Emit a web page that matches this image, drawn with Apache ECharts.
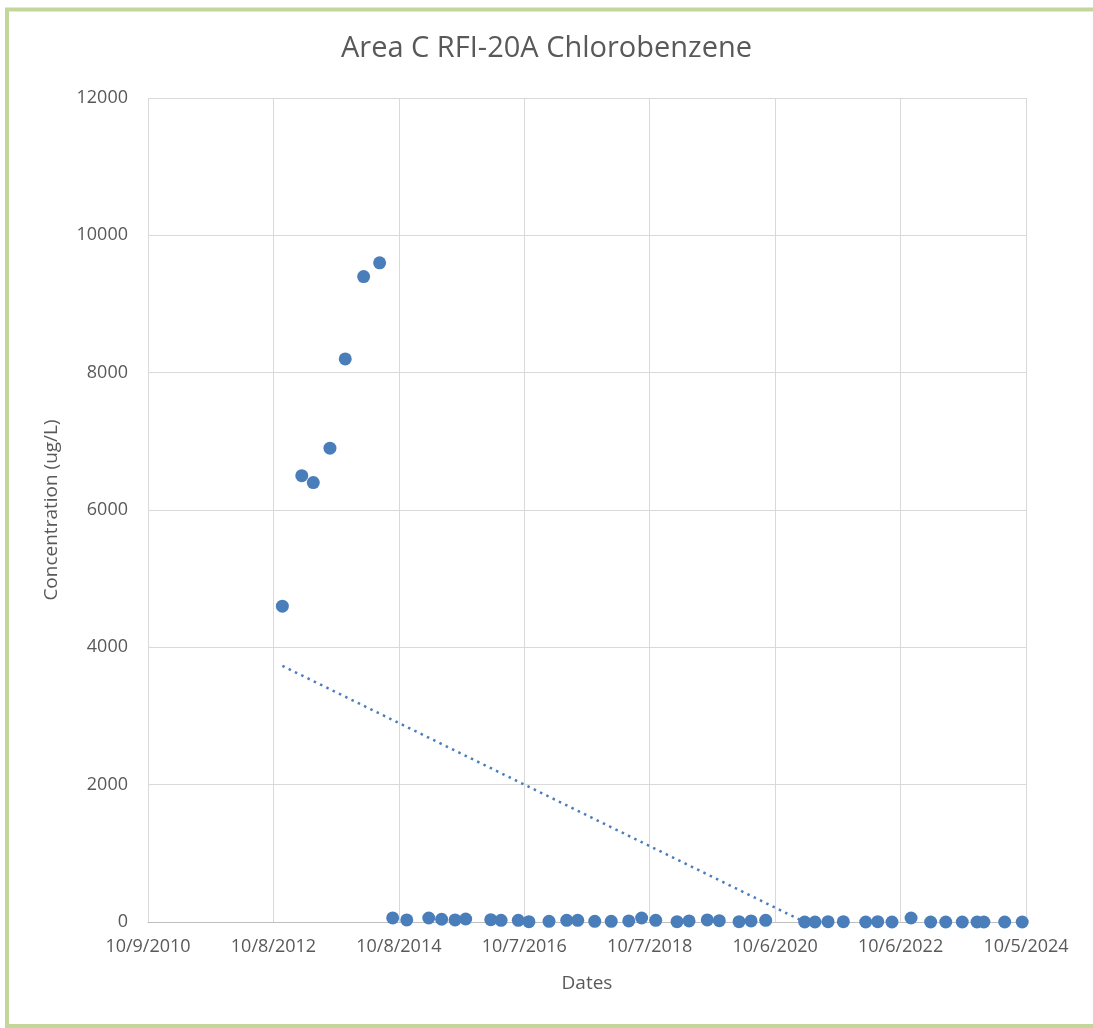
<!DOCTYPE html>
<html><head><meta charset="utf-8">
<script src="https://cdn.jsdelivr.net/npm/echarts@6/dist/echarts.min.js"></script>
<style>html,body{margin:0;padding:0;background:#fff}#c{width:1093px;height:1028px}</style>
</head><body><div id="c"></div>
<script>
const xTickLabels = ['10/9/2010','10/8/2012','10/8/2014','10/7/2016','10/7/2018','10/6/2020','10/6/2022','10/5/2024'];
const yTicks = [0,2000,4000,6000,8000,10000,12000];
const sampleDates = [
 '2012-11-29','2013-03-22','2013-05-28','2013-09-02','2013-11-30','2014-03-17','2014-06-18',
 '2014-09-02','2014-11-23','2015-03-31','2015-06-14','2015-08-31','2015-11-01',
 '2016-03-26','2016-05-25','2016-09-02','2016-11-03','2017-02-28','2017-06-11','2017-08-14','2017-11-21',
 '2018-02-25','2018-06-07','2018-08-21','2018-11-11','2019-03-15','2019-05-24','2019-09-07','2019-11-16',
 '2020-03-10','2020-05-19','2020-08-12','2021-03-27','2021-05-26','2021-08-10','2021-11-07',
 '2022-03-17','2022-05-26','2022-08-17','2022-12-06','2023-03-30','2023-06-26','2023-09-30','2023-12-25',
 '2024-02-03','2024-06-03','2024-09-13'];
const concentrations = [
 4600,6500,6400,6900,8200,9400,9600,
 60,30,58,40,30,44,
 34,25,25,5,10,25,25,10,
 10,15,58,25,5,15,30,20,
 5,15,25,0,0,5,5,
 0,5,0,58,0,0,0,0,
 0,0,0];

const dayMs = 86400000;
function dayOf(s){const p=s.split('-').map(Number);return Math.round((Date.UTC(p[0],p[1]-1,p[2])-Date.UTC(2010,9,9))/dayMs);}
const xs = sampleDates.map(dayOf);
const pts = xs.map((x,i)=>[x,concentrations[i]]);

// linear trendline (least squares)
const n = xs.length;
const mx = xs.reduce((a,b)=>a+b,0)/n, my = concentrations.reduce((a,b)=>a+b,0)/n;
let sxy=0,sxx=0;
for(let i=0;i<n;i++){sxy+=(xs[i]-mx)*(concentrations[i]-my);sxx+=(xs[i]-mx)*(xs[i]-mx);}
const slope=sxy/sxx, icpt=my-slope*mx;
const x0=xs[0], x1=Math.min(xs[n-1], -icpt/slope);
const trend=[[x0,icpt+slope*x0],[x1,Math.max(0,icpt+slope*x1)]];

const txt='#595959';
const chart = echarts.init(document.getElementById('c'));
chart.setOption({
 animation:false,
 backgroundColor:'#fff',
 graphic:[{type:'polyline',shape:{points:[[1100,9.5],[7,9.5],[7,1026],[1100,1026]]},style:{fill:'none',stroke:'#c4d79b',lineWidth:4},silent:true}],
 title:{text:'Area C RFI-20A Chlorobenzene',left:'center',top:29,textStyle:{fontFamily:'Open Sans, sans-serif',fontSize:29,fontWeight:'normal',color:txt}},
 grid:{left:148,right:67,top:98,bottom:106,containLabel:false},
 xAxis:{type:'value',min:0,max:5110,interval:730,
  name:'Dates',nameLocation:'middle',nameGap:52,nameTextStyle:{color:txt,fontSize:19,fontFamily:'Open Sans, sans-serif'},
  axisLine:{show:true,lineStyle:{color:'#bfbfbf',width:1}},axisTick:{show:false},
  axisLabel:{color:txt,fontSize:18,fontFamily:'Open Sans, sans-serif',margin:16,formatter:v=>xTickLabels[Math.round(v/730)]||''},
  splitLine:{show:true,lineStyle:{color:'#d9d9d9',width:1}}},
 yAxis:{type:'value',min:yTicks[0],max:yTicks[yTicks.length-1],interval:2000,
  name:'Concentration (ug/L)',nameLocation:'middle',nameGap:87,nameTextStyle:{color:txt,fontSize:19,fontFamily:'Open Sans, sans-serif'},
  axisLine:{show:false},axisTick:{show:false},
  axisLabel:{color:txt,fontSize:18,fontFamily:'Open Sans, sans-serif',margin:20,formatter:v=>String(v)},
  splitLine:{show:true,lineStyle:{color:'#d9d9d9',width:1}}},
 series:[
  {type:'line',data:trend,symbol:'none',lineStyle:{color:'#4a7ebb',width:2.5,type:[2.5,4.5]},z:1},
  {type:'scatter',data:pts,symbolSize:13,itemStyle:{color:'#4a7ebb',opacity:1},z:2}
 ]
});
</script></body></html>
